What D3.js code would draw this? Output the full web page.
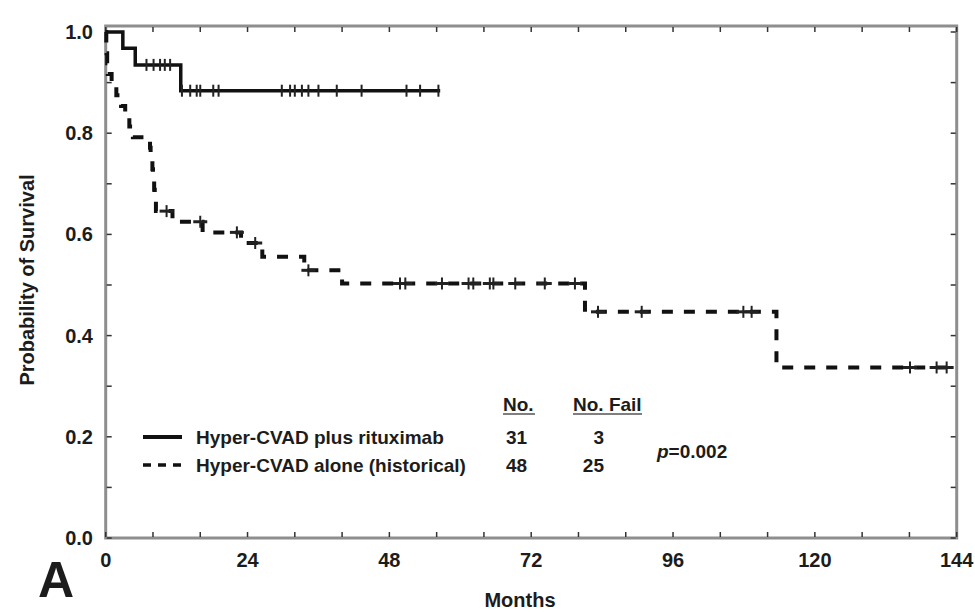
<!DOCTYPE html>
<html>
<head>
<meta charset="utf-8">
<script src="https://cdn.jsdelivr.net/npm/d3@7/dist/d3.min.js"></script>
<style>
body { margin: 0; background: #ffffff; }
text { font-family: "Liberation Sans", Arial, sans-serif; font-weight: bold; fill: #1c1c1c; }
</style>
</head>
<body>
<script>
// axis labels
var xTicks = [0, 24, 48, 72, 96, 120, 144];
var yTicks = [0.0, 0.2, 0.4, 0.6, 0.8, 1.0];

// Hyper-CVAD plus rituximab: event times (months) and survival after each event
var rituxTimes = [0, 2.9, 5.0, 12.7];
var rituxSurv = [1.0, 0.968, 0.935, 0.884];
var rituxEnd = 56.6;
var rituxCensor = [6.9, 8.1, 9.2, 10.0, 10.9, 12.9, 14.3, 15.4, 16.0, 18.2, 19.1,
    29.8, 31.2, 32.0, 33.2, 34.3, 36.0, 39.1, 43.3, 50.9, 53.2, 56.3];

// Hyper-CVAD alone (historical)
var histTimes = [0, 0.1, 0.15, 0.25, 0.35, 1.0, 1.8, 2.6, 3.3, 4.0, 4.6, 7.5, 7.6, 7.9,
    8.0, 8.2, 8.3, 8.5, 11.3, 16.4, 22.9, 26.5, 33.6, 40.0, 81.1, 113.5];
var histSurv = [1.0, 0.979, 0.958, 0.938, 0.917, 0.896, 0.875, 0.854, 0.833, 0.813, 0.792,
    0.771, 0.75, 0.729, 0.708, 0.688, 0.667, 0.646, 0.625, 0.604, 0.583, 0.556, 0.529,
    0.503, 0.447, 0.337];
var histEnd = 142.5;
var histCensor = [10.3, 16.0, 22.2, 25.3, 34.3, 49.8, 50.7, 56.9, 61.4, 62.2, 65.0, 65.6,
    69.3, 74.3, 79.4, 83.3, 90.7, 107.9, 109.3, 136.1, 140.6, 142.3];

// legend table
var legendNames = ["Hyper-CVAD plus rituximab", "Hyper-CVAD alone (historical)"];
var legendNo = ["31", "48"];
var legendFail = ["3", "25"];

var svg = d3.select("body")
    .append("svg")
    .attr("width", 975)
    .attr("height", 612);

var x = d3.scaleLinear().domain([0, 144]).range([105.7, 956.7]);
var y = d3.scaleLinear().domain([0, 1]).range([538, 32]);

var g = svg.append("g");

// frame
g.append("rect")
    .attr("x", x(0))
    .attr("y", y(1) - 6)
    .attr("width", x(144) - x(0))
    .attr("height", y(0) - y(1) + 6)
    .attr("fill", "none")
    .attr("stroke", "#8e8e8e")
    .attr("stroke-width", 3);

// inner minor ticks
var mt = 5;
d3.range(0, 145, 8).forEach(function (m) {
    g.append("line")
        .attr("x1", x(m)).attr("x2", x(m))
        .attr("y1", y(0) - 1).attr("y2", y(0) - 1 - mt)
        .attr("stroke", "#333").attr("stroke-width", 1.5);
    g.append("line")
        .attr("x1", x(m)).attr("x2", x(m))
        .attr("y1", y(1) - 5).attr("y2", y(1) - 5 + mt)
        .attr("stroke", "#333").attr("stroke-width", 1.5);
});
d3.range(0, 1.001, 0.1).forEach(function (v) {
    g.append("line")
        .attr("x1", x(0) + 1).attr("x2", x(0) + 1 + mt)
        .attr("y1", y(v)).attr("y2", y(v))
        .attr("stroke", "#333").attr("stroke-width", 1.5);
    g.append("line")
        .attr("x1", x(144) - 1).attr("x2", x(144) - 1 - mt)
        .attr("y1", y(v)).attr("y2", y(v))
        .attr("stroke", "#333").attr("stroke-width", 1.5);
});

// tick labels
g.selectAll(".ylab")
    .data(yTicks)
    .enter().append("text")
    .attr("class", "ylab")
    .attr("x", 93)
    .attr("y", function (d) { return y(d); })
    .attr("dy", "0.35em")
    .attr("text-anchor", "end")
    .attr("font-size", 20)
    .text(function (d) { return d.toFixed(1); });

g.selectAll(".xlab")
    .data(xTicks)
    .enter().append("text")
    .attr("class", "xlab")
    .attr("x", function (d) { return x(d); })
    .attr("y", 560)
    .attr("dy", "0.35em")
    .attr("text-anchor", "middle")
    .attr("font-size", 20)
    .text(function (d) { return d; });

g.append("text")
    .attr("x", 520)
    .attr("y", 600)
    .attr("dy", "0.35em")
    .attr("text-anchor", "middle")
    .attr("font-size", 20)
    .text("Months");

g.append("text")
    .attr("transform", "translate(27,280) rotate(-90)")
    .attr("dy", "0.35em")
    .attr("text-anchor", "middle")
    .attr("font-size", 20)
    .text("Probability of Survival");

g.append("text")
    .attr("x", 38)
    .attr("y", 597)
    .attr("font-size", 50)
    .text("A");

// survival curves
function stepAt(times, surv, t) {
    return surv[d3.bisectRight(times, t) - 1];
}
var line = d3.line()
    .x(function (d) { return x(d[0]); })
    .y(function (d) { return y(d[1]); })
    .curve(d3.curveStepAfter);

function curvePoints(times, surv, end) {
    var pts = times.map(function (t, i) { return [t, surv[i]]; });
    pts.push([end, surv[surv.length - 1]]);
    return pts;
}

g.append("path")
    .attr("d", line(curvePoints(histTimes, histSurv, histEnd)))
    .attr("fill", "none")
    .attr("stroke", "#111")
    .attr("stroke-width", 4)
    .attr("stroke-dasharray", "11,11");

g.append("path")
    .attr("d", line(curvePoints(rituxTimes, rituxSurv, rituxEnd)))
    .attr("fill", "none")
    .attr("stroke", "#111")
    .attr("stroke-width", 3.5);

// censor marks
rituxCensor.forEach(function (t) {
    var s = stepAt(rituxTimes, rituxSurv, t);
    g.append("line")
        .attr("x1", x(t)).attr("x2", x(t))
        .attr("y1", y(s) - 6).attr("y2", y(s) + 6)
        .attr("stroke", "#222").attr("stroke-width", 2);
});
histCensor.forEach(function (t) {
    var s = stepAt(histTimes, histSurv, t);
    g.append("line")
        .attr("x1", x(t)).attr("x2", x(t))
        .attr("y1", y(s) - 6).attr("y2", y(s) + 6)
        .attr("stroke", "#222").attr("stroke-width", 2);
    g.append("line")
        .attr("x1", x(t) - 7).attr("x2", x(t) + 7)
        .attr("y1", y(s)).attr("y2", y(s))
        .attr("stroke", "#222").attr("stroke-width", 3);
});

// legend
var rowY = [437, 465];
var leg = svg.append("g");
leg.append("line")
    .attr("x1", 143).attr("x2", 182)
    .attr("y1", rowY[0]).attr("y2", rowY[0])
    .attr("stroke", "#111").attr("stroke-width", 4);
leg.append("line")
    .attr("x1", 143).attr("x2", 182)
    .attr("y1", rowY[1]).attr("y2", rowY[1])
    .attr("stroke", "#111").attr("stroke-width", 3.5)
    .attr("stroke-dasharray", "8,7");

legendNames.forEach(function (name, i) {
    leg.append("text")
        .attr("x", 196).attr("y", rowY[i]).attr("dy", "0.35em")
        .attr("font-size", 19)
        .text(name);
    leg.append("text")
        .attr("x", 506).attr("y", rowY[i]).attr("dy", "0.35em")
        .attr("font-size", 19)
        .text(legendNo[i]);
    leg.append("text")
        .attr("x", 604).attr("y", rowY[i]).attr("dy", "0.35em")
        .attr("text-anchor", "end")
        .attr("font-size", 19)
        .text(legendFail[i]);
});

var headY = 404;
leg.append("text")
    .attr("x", 503).attr("y", headY).attr("dy", "0.35em")
    .attr("font-size", 19)
    .text("No.");
leg.append("line")
    .attr("x1", 503).attr("x2", 535)
    .attr("y1", headY + 10).attr("y2", headY + 10)
    .attr("stroke", "#555").attr("stroke-width", 1.5);
leg.append("text")
    .attr("x", 573).attr("y", headY).attr("dy", "0.35em")
    .attr("font-size", 19)
    .text("No. Fail");
leg.append("line")
    .attr("x1", 573).attr("x2", 642)
    .attr("y1", headY + 10).attr("y2", headY + 10)
    .attr("stroke", "#555").attr("stroke-width", 1.5);

var pText = leg.append("text")
    .attr("x", 657).attr("y", 451).attr("dy", "0.35em")
    .attr("font-size", 19);
pText.append("tspan").attr("font-style", "italic").text("p");
pText.append("tspan").text("=0.002");
</script>
</body>
</html>
